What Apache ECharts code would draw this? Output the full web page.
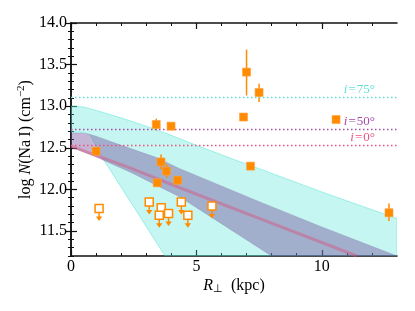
<!DOCTYPE html>
<html><head><meta charset="utf-8">
<script src="https://cdn.jsdelivr.net/npm/echarts@6/dist/echarts.min.js"></script>
<style>html,body{margin:0;padding:0;background:#fff}#c{width:415px;height:311px}</style>
</head><body><div id="c"></div>
<script>
// Detections (filled squares) with error bars
const detR  = [1.00, 3.40, 3.99, 7.00, 7.50, 6.88, 10.57, 3.59, 3.81, 3.44, 4.25, 7.16, 12.68];
const detN  = [12.46, 12.78, 12.76, 13.41, 13.165, 12.87, 12.84, 12.33, 12.22, 12.08, 12.11, 12.28, 11.72];
const detLo = [12.43, 12.71, 12.73, 13.13, 13.05, 12.85, 12.82, 12.24, 12.14, 12.05, 12.06, 12.26, 11.62];
const detHi = [12.49, 12.85, 12.79, 13.68, 13.27, 12.89, 12.86, 12.42, 12.30, 12.11, 12.16, 12.30, 11.83];
// Upper limits (open squares with arrows)
const limR = [1.12, 3.12, 3.60, 3.52, 3.89, 4.40, 4.66, 5.62];
const limN = [11.77, 11.85, 11.78, 11.69, 11.71, 11.85, 11.69, 11.80];
// Model bands: i = 75 deg (cyan), i = 50 deg (purple), i = 0 deg (line)
const cyanTopR = [0, 0.5, 1, 2, 3, 4, 5, 6.5, 7.5, 10, 13];
const cyanTopN = [13.00, 12.99, 12.95, 12.86, 12.76, 12.65, 12.53, 12.36, 12.25, 11.97, 11.65];
const cyanBotR = [0, 0.5, 0.76, 1.0, 1.25, 2.5, 3.75, 13];
const cyanBotN = [12.69, 12.685, 12.66, 12.52, 12.38, 11.79, 11.2, 11.2];
const purTopR = [0, 0.5, 0.76, 1, 2, 3.35, 4.34, 7.53, 10, 13];
const purTopN = [12.68, 12.675, 12.66, 12.64, 12.53, 12.39, 12.25, 11.85, 11.55, 11.2];
const purBotR = [0, 1, 2.35, 4.34, 8, 13];
const purBotN = [12.51, 12.39, 12.21, 11.91, 11.2, 11.2];
const lineR = [0, 2.35, 4.34, 7.53, 11.4];
const lineN = [12.52, 12.26, 12.02, 11.65, 11.2];
// Reference levels
const levelN = [13.11, 12.72, 12.53];
const levelName = ['75°', '50°', '0°'];
// Axis ticks
const xLabelVals = [0, 5, 10];
const xMinorVals = [1, 2, 3, 4, 6, 7, 8, 9, 11, 12];
const yLabelVals = [11.5, 12.0, 12.5, 13.0, 13.5, 14.0];
const yMinorVals = [11.2, 11.3, 11.4, 11.6, 11.7, 11.8, 11.9, 12.1, 12.2, 12.3, 12.4, 12.6, 12.7, 12.8, 12.9, 13.1, 13.2, 13.3, 13.4, 13.6, 13.7, 13.8, 13.9];

const FONT = 'Liberation Serif';
const ORANGE = '#ff8c00';
const levelColor = ['#5fe0d6', '#a64ca6', '#e8557f'];

function zip(a, b) { return a.map((v, i) => [v, b[i]]); }
function poly(topR, topN, botR, botN) {
  return zip(topR, topN).concat(zip(botR, botN).reverse());
}
function bandSeries(data, fill, stroke, z) {
  return {
    type: 'custom', xAxisIndex: 0, yAxisIndex: 0, clip: true, z: z, silent: true,
    data: data,
    renderItem: function (params, api) {
      if (params.dataIndex !== 0) return null;
      const pts = data.map(p => api.coord(p));
      return { type: 'polygon', shape: { points: pts }, style: { fill: fill, stroke: stroke, lineWidth: 0.8 } };
    }
  };
}

const chart = echarts.init(document.getElementById('c'), null, { renderer: 'canvas' });

const xBase = { type: 'value', min: 0, max: 13, splitLine: { show: false } };
const yBase = { type: 'value', min: 11.2, max: 14, splitLine: { show: false } };
const axLine = { show: true, lineStyle: { color: '#111', width: 1.5 } };

const option = {
  animation: false,
  backgroundColor: '#fff',
  textStyle: { fontFamily: FONT },
  grid: { left: 71, right: 18, top: 23, bottom: 55 },
  xAxis: [
    Object.assign({}, xBase, {
      position: 'bottom', axisLine: axLine,
      axisTick: { inside: true, length: 6, customValues: xLabelVals, lineStyle: { color: '#111', width: 1.2 } },
      axisLabel: { customValues: xLabelVals, margin: 3, color: '#000', fontFamily: FONT, fontSize: 16 },
      name: '{r|R}{s|⊥}{n|  (kpc)}', nameLocation: 'middle', nameGap: 20, nameMoveOverlap: false,
      nameTextStyle: { rich: {
        r: { fontFamily: FONT, fontSize: 16, fontStyle: 'italic', color: '#000' },
        s: { fontFamily: FONT, fontSize: 11, color: '#000', padding: [8, 0, 0, 0] },
        n: { fontFamily: FONT, fontSize: 16, color: '#000' }
      } }
    }),
    Object.assign({}, xBase, {
      position: 'bottom', axisLine: { show: false },
      axisTick: { inside: true, length: 3, customValues: xMinorVals, lineStyle: { color: '#111', width: 1 } },
      axisLabel: { show: false }
    }),
    Object.assign({}, xBase, {
      position: 'top', axisLine: axLine,
      axisTick: { inside: true, length: 6, customValues: xLabelVals, lineStyle: { color: '#111', width: 1.2 } },
      axisLabel: { show: false }
    }),
    Object.assign({}, xBase, {
      position: 'top', axisLine: { show: false },
      axisTick: { inside: true, length: 3, customValues: xMinorVals, lineStyle: { color: '#111', width: 1 } },
      axisLabel: { show: false }
    })
  ],
  yAxis: [
    Object.assign({}, yBase, {
      position: 'left', axisLine: axLine,
      axisTick: { inside: true, length: 6, customValues: yLabelVals, lineStyle: { color: '#111', width: 1.2 } },
      axisLabel: { customValues: yLabelVals, margin: 4, color: '#000', fontFamily: FONT, fontSize: 16, formatter: v => v.toFixed(1) },
      name: '{n|log }{i|N}{n|(Na\u2009I) (cm}{s|−2}{n|)}', nameLocation: 'middle', nameGap: 36, nameRotate: 90, nameMoveOverlap: false,
      nameTextStyle: { rich: {
        n: { fontFamily: FONT, fontSize: 16, color: '#000' },
        i: { fontFamily: FONT, fontSize: 16, fontStyle: 'italic', color: '#000' },
        s: { fontFamily: FONT, fontSize: 11, color: '#000', padding: [0, 0, 8, 0] }
      } }
    }),
    Object.assign({}, yBase, {
      position: 'left', axisLine: { show: false },
      axisTick: { inside: true, length: 3, customValues: yMinorVals, lineStyle: { color: '#111', width: 1 } },
      axisLabel: { show: false }
    }),
    Object.assign({}, yBase, {
      position: 'right', axisLine: axLine,
      axisTick: { inside: true, length: 6, customValues: yLabelVals, lineStyle: { color: '#111', width: 1.2 } },
      axisLabel: { show: false }
    }),
    Object.assign({}, yBase, {
      position: 'right', axisLine: { show: false },
      axisTick: { inside: true, length: 3, customValues: yMinorVals, lineStyle: { color: '#111', width: 1 } },
      axisLabel: { show: false }
    })
  ],
  series: [
    bandSeries(poly(cyanTopR, cyanTopN, cyanBotR, cyanBotN), 'rgba(64,224,208,0.30)', 'rgba(64,224,208,0.55)', 1),
    bandSeries(poly(purTopR, purTopN, purBotR, purBotN), 'rgba(110,70,150,0.40)', 'rgba(110,70,150,0.25)', 2),
    {
      type: 'line', xAxisIndex: 0, yAxisIndex: 0, z: 3, silent: true, symbol: 'none',
      data: zip(lineR, lineN),
      lineStyle: { color: 'rgba(215,80,125,0.45)', width: 3 },
      markLine: {
        silent: true, symbol: ['none', 'none'], animation: false,
        data: levelN.map((v, i) => ({
          yAxis: v,
          lineStyle: { color: levelColor[i], type: [1.5, 2.5], width: 1.3 },
          label: {
            show: true, position: 'insideEndTop', distance: [22, 1],
            formatter: '{i|i}{t|\u200A=\u200A' + levelName[i] + '}',
            rich: {
              i: { fontFamily: FONT, fontStyle: 'italic', fontSize: 13, color: levelColor[i] },
              t: { fontFamily: FONT, fontSize: 13, color: levelColor[i] }
            }
          }
        }))
      }
    },
    {
      type: 'custom', xAxisIndex: 0, yAxisIndex: 0, z: 4, silent: true,
      data: detR.map((r, i) => [r, detN[i], detLo[i], detHi[i]]),
      renderItem: function (params, api) {
        const a = api.coord([api.value(0), api.value(2)]);
        const b = api.coord([api.value(0), api.value(3)]);
        return { type: 'line', shape: { x1: a[0], y1: a[1], x2: b[0], y2: b[1] }, style: { stroke: ORANGE, lineWidth: 1.5 } };
      }
    },
    {
      type: 'scatter', xAxisIndex: 0, yAxisIndex: 0, z: 5, silent: true,
      symbol: 'rect', symbolSize: 8,
      itemStyle: { color: ORANGE, borderColor: 'rgba(255,160,60,0.6)', borderWidth: 1, opacity: 1 },
      data: zip(detR, detN)
    },
    {
      type: 'custom', xAxisIndex: 0, yAxisIndex: 0, z: 4, silent: true,
      data: zip(limR, limN),
      renderItem: function (params, api) {
        const c = api.coord([api.value(0), api.value(1)]);
        return { type: 'group', children: [
          { type: 'line', shape: { x1: c[0], y1: c[1] + 4, x2: c[0], y2: c[1] + 9 }, style: { stroke: ORANGE, lineWidth: 1.5 } },
          { type: 'polygon', shape: { points: [[c[0] - 3.2, c[1] + 8], [c[0] + 3.2, c[1] + 8], [c[0], c[1] + 12.5]] }, style: { fill: ORANGE } }
        ] };
      }
    },
    {
      type: 'scatter', xAxisIndex: 0, yAxisIndex: 0, z: 5, silent: true,
      symbol: 'rect', symbolSize: 8,
      itemStyle: { color: '#fff', borderColor: ORANGE, borderWidth: 1.5, opacity: 1 },
      data: zip(limR, limN)
    }
  ]
};
chart.setOption(option);
</script>
</body></html>
